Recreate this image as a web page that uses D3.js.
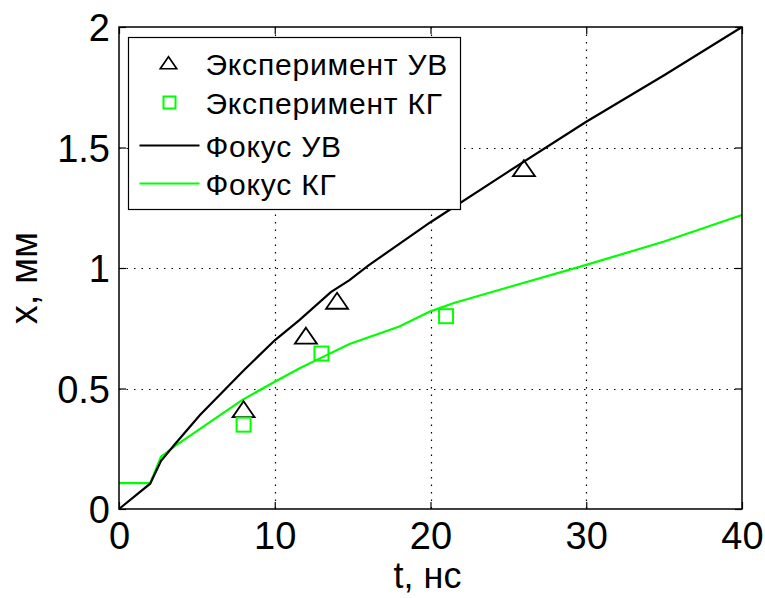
<!DOCTYPE html>
<html>
<head>
<meta charset="utf-8">
<script src="https://cdn.jsdelivr.net/npm/d3@7"></script>
<style>
  body { margin: 0; background: #fff; }
  text { font-family: "Liberation Sans", Arial, sans-serif; fill: #000; }
</style>
</head>
<body>
<div id="chart"></div>
<script>
var svgWidth = 765;
var svgHeight = 598;

// plot area margins
var margin = { top: 27, right: 23, bottom: 89, left: 119 };
var width = svgWidth - margin.left - margin.right;
var height = svgHeight - margin.top - margin.bottom;

// Фокус УВ (black line)
var tUV = [0, 2, 2.7, 3.6, 5.2, 8, 10, 11.6, 13.6, 14.8, 16, 20, 25, 30, 35, 40];
var xUV = [0, 0.105, 0.2, 0.27, 0.39, 0.575, 0.7, 0.785, 0.9, 0.95, 1.01, 1.19, 1.4, 1.607, 1.8, 2.0];

// Фокус КГ (green line)
var tKG = [0, 2, 2.7, 3.7, 7.9, 10, 11.6, 12.9, 14.8, 18, 20, 21.5, 25, 30, 35, 40];
var xKG = [0.107, 0.107, 0.217, 0.266, 0.452, 0.528, 0.584, 0.625, 0.685, 0.757, 0.82, 0.855, 0.92, 1.013, 1.11, 1.22];

// Эксперимент УВ (triangles)
var expUVt = [8, 12, 14, 26];
var expUVx = [0.41, 0.715, 0.86, 1.41];

// Эксперимент КГ (squares)
var expKGt = [8, 13, 21];
var expKGx = [0.35, 0.645, 0.8];

var xTicks = [0, 10, 20, 30, 40];
var yTicks = [0, 0.5, 1, 1.5, 2];

var legendLabels = ["Эксперимент УВ", "Эксперимент КГ", "Фокус УВ", "Фокус КГ"];

var green = "#00ff00";

var svg = d3.select("#chart").append("svg")
    .attr("width", svgWidth)
    .attr("height", svgHeight);

var chartGroup = svg.append("g")
    .attr("transform", `translate(${margin.left}, ${margin.top})`);

var xScale = d3.scaleLinear().domain([0, 40]).range([0, width]);
var yScale = d3.scaleLinear().domain([0, 2]).range([height, 0]);

// dotted grid
chartGroup.selectAll(".vgrid")
    .data(xTicks.slice(1, -1))
    .enter().append("line")
    .attr("x1", d => Math.round(xScale(d)) + 0.5)
    .attr("x2", d => Math.round(xScale(d)) + 0.5)
    .attr("y1", 0).attr("y2", height)
    .attr("stroke", "#000").attr("stroke-width", 1.2)
    .attr("stroke-dasharray", "1.5,6");

chartGroup.selectAll(".hgrid")
    .data(yTicks.slice(1, -1))
    .enter().append("line")
    .attr("y1", d => Math.round(yScale(d)) + 0.5)
    .attr("y2", d => Math.round(yScale(d)) + 0.5)
    .attr("x1", 0).attr("x2", width)
    .attr("stroke", "#000").attr("stroke-width", 1.2)
    .attr("stroke-dasharray", "1.5,6");

// axes with inward ticks (all four sides)
var axisFont = 38;
var xAxis = chartGroup.append("g")
    .attr("transform", `translate(0, ${height})`)
    .call(d3.axisBottom(xScale).tickValues(xTicks).tickSize(-7).tickPadding(13));
var yAxis = chartGroup.append("g")
    .call(d3.axisLeft(yScale).tickValues(yTicks).tickSize(-7).tickPadding(9)
        .tickFormat(d3.format("")));
chartGroup.append("g")
    .call(d3.axisTop(xScale).tickValues(xTicks).tickSize(-7).tickFormat(""));
chartGroup.append("g")
    .attr("transform", `translate(${width}, 0)`)
    .call(d3.axisRight(yScale).tickValues(yTicks).tickSize(-7).tickFormat(""));

chartGroup.selectAll(".domain").remove();
chartGroup.selectAll(".tick line").attr("stroke", "#000").attr("stroke-width", 1.2);
xAxis.selectAll("text").attr("font-size", axisFont).style("font-family", "Liberation Sans, Arial");
yAxis.selectAll("text").attr("font-size", axisFont).style("font-family", "Liberation Sans, Arial")
    .attr("dy", "0.36em");
xAxis.selectAll("text").attr("dy", "0.71em");

// lines
var lineGen = d3.line()
    .x(d => xScale(d[0]))
    .y(d => yScale(d[1]));

chartGroup.append("path")
    .datum(d3.zip(tKG, xKG))
    .attr("d", lineGen)
    .attr("fill", "none")
    .attr("stroke", green)
    .attr("stroke-width", 2.2);

chartGroup.append("path")
    .datum(d3.zip(tUV, xUV))
    .attr("d", lineGen)
    .attr("fill", "none")
    .attr("stroke", "#000")
    .attr("stroke-width", 2.2);

// markers
var triPath = "M0,-9L11,7L-11,7Z";
chartGroup.selectAll(".tri")
    .data(d3.zip(expUVt, expUVx))
    .enter().append("path")
    .attr("d", triPath)
    .attr("transform", d => `translate(${xScale(d[0])}, ${yScale(d[1])})`)
    .attr("fill", "none").attr("stroke", "#000").attr("stroke-width", 1.8);

chartGroup.selectAll(".sq")
    .data(d3.zip(expKGt, expKGx))
    .enter().append("rect")
    .attr("x", d => xScale(d[0]) - 7)
    .attr("y", d => yScale(d[1]) - 7)
    .attr("width", 14).attr("height", 14)
    .attr("fill", "none").attr("stroke", green).attr("stroke-width", 2);

// plot frame
chartGroup.append("rect")
    .attr("x", 0).attr("y", 0)
    .attr("width", width).attr("height", height)
    .attr("fill", "none").attr("stroke", "#000").attr("stroke-width", 1.5);

// axis titles
svg.append("text")
    .attr("transform", `translate(37, ${margin.top + height / 2 + 10}) rotate(-90)`)
    .attr("text-anchor", "middle")
    .attr("font-size", 38)
    .text("x, мм");

svg.append("text")
    .attr("x", margin.left + width / 2 - 3)
    .attr("y", 588)
    .attr("text-anchor", "middle")
    .attr("font-size", 36)
    .text("t, нс");

// legend
var legend = svg.append("g").attr("transform", "translate(128.5, 37.5)");
legend.append("rect")
    .attr("width", 332).attr("height", 172)
    .attr("fill", "#fff").attr("stroke", "#000").attr("stroke-width", 1.2);

var rowY = [26, 65, 108, 146];
var legFont = 30;
legendLabels.forEach(function(label, i) {
    var y = rowY[i];
    if (i === 0) {
        legend.append("path").attr("d", triPath)
            .attr("transform", `translate(40, ${y}) scale(0.75)`)
            .attr("fill", "none").attr("stroke", "#000").attr("stroke-width", 2.2);
    } else if (i === 1) {
        legend.append("rect")
            .attr("x", 35).attr("y", y - 6).attr("width", 12).attr("height", 12)
            .attr("fill", "none").attr("stroke", green).attr("stroke-width", 2);
    } else {
        legend.append("line")
            .attr("x1", 11).attr("x2", 71).attr("y1", y).attr("y2", y)
            .attr("stroke", i === 2 ? "#000" : green).attr("stroke-width", 2);
    }
    legend.append("text")
        .attr("x", 77).attr("y", y + 11)
        .attr("font-size", legFont)
        .attr("letter-spacing", 0.8)
        .text(label);
});
</script>
</body>
</html>
